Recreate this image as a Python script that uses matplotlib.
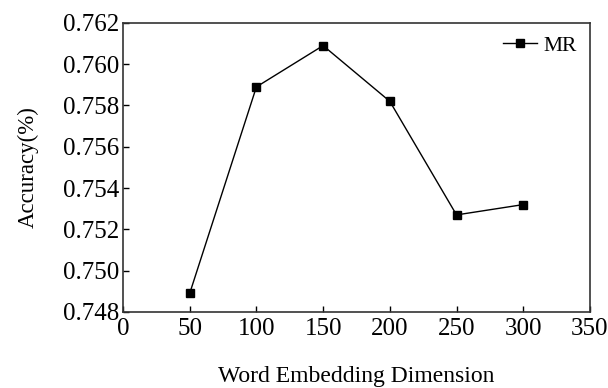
import matplotlib.pyplot as plt

dims = [50, 100, 150, 200, 250, 300]
acc_mr = [0.7489, 0.7589, 0.7609, 0.7582, 0.7527, 0.7532]
x_ticks = [0, 50, 100, 150, 200, 250, 300, 350]
y_ticks = [0.748, 0.750, 0.752, 0.754, 0.756, 0.758, 0.760, 0.762]

plt.rcParams['font.family'] = ['Liberation Serif', 'DejaVu Serif']

fig = plt.figure(figsize=(6.08, 3.88), dpi=100)
ax = fig.add_axes([0.2023, 0.196, 0.768, 0.745])

ax.plot(dims, acc_mr, color='black', linewidth=1.0, marker='s', markersize=6, label='MR')

ax.set_xlim(0, 350)
ax.set_ylim(0.748, 0.762)
ax.set_xticks(x_ticks)
ax.set_yticks(y_ticks)
ax.set_yticklabels([f"{v:.3f}" for v in y_ticks])
ax.tick_params(direction='in', length=4, width=1, labelsize=18)
ax.tick_params(axis='x', pad=4)
ax.tick_params(axis='y', pad=3)
for s in ax.spines.values():
    s.set_linewidth(1.2)
    s.set_color('#333333')

ax.set_xlabel('Word Embedding Dimension', fontsize=17, labelpad=19)
ax.set_ylabel('Accuracy(%)', fontsize=16.5, labelpad=17)
ax.legend(loc='upper right', frameon=False, fontsize=15.5, handlelength=1.6,
          handletextpad=0.3, borderaxespad=0.2)

fig.savefig('out.png', dpi=100)
